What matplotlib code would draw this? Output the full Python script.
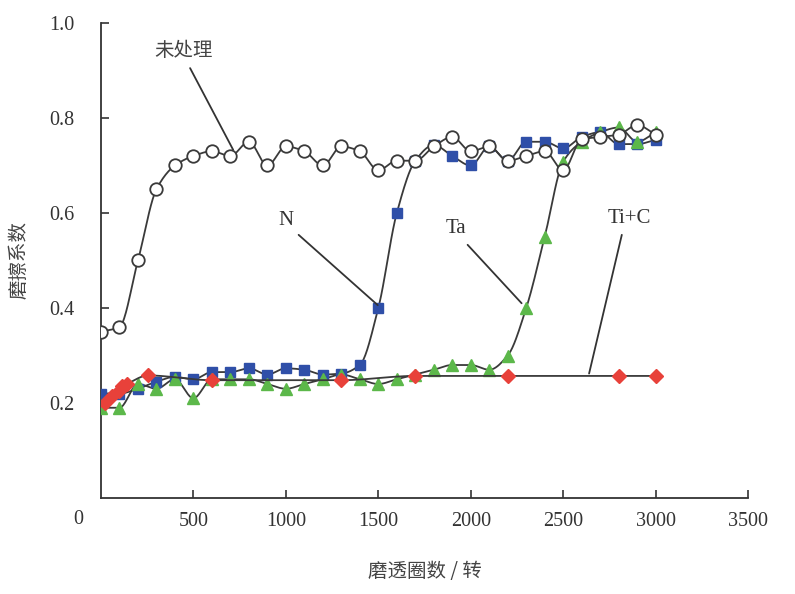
import numpy as np
import matplotlib
matplotlib.use("Agg")
import matplotlib.pyplot as plt

plt.rcParams['font.family'] = ['Liberation Serif', 'Noto Sans CJK SC', 'DejaVu Sans']

# ---------------- data ----------------
x_main = list(range(0, 3100, 100))
untreated = [0.35, 0.36, 0.50, 0.65, 0.70, 0.72, 0.73, 0.72, 0.75, 0.70,
             0.74, 0.73, 0.70, 0.74, 0.73, 0.69, 0.71, 0.71, 0.74, 0.76,
             0.73, 0.74, 0.71, 0.72, 0.73, 0.69, 0.755, 0.76, 0.765, 0.785, 0.765]
n_series = [0.22, 0.22, 0.23, 0.245, 0.255, 0.25, 0.265, 0.265, 0.273, 0.26,
            0.273, 0.27, 0.26, 0.262, 0.28, 0.40, 0.60, 0.71, 0.743, 0.72,
            0.70, 0.74, 0.71, 0.75, 0.75, 0.736, 0.76, 0.77, 0.745, 0.745, 0.754]
ta_series = [0.19, 0.19, 0.24, 0.23, 0.25, 0.21, 0.25, 0.25, 0.25, 0.24,
             0.23, 0.24, 0.25, 0.26, 0.25, 0.24, 0.25, 0.26, 0.27, 0.28,
             0.28, 0.27, 0.30, 0.40, 0.55, 0.708, 0.75, 0.77, 0.78, 0.75, 0.77]
x_tic = [20, 60, 95, 115, 140, 255, 600, 1300, 1700, 2200, 2800, 3000]
tic_series = [0.20, 0.215, 0.225, 0.235, 0.24, 0.258, 0.248, 0.248, 0.257, 0.257, 0.257, 0.257]

x_ticks = [500, 1000, 1500, 2000, 2500, 3000, 3500]
y_ticks = [0.2, 0.4, 0.6, 0.8, 1.0]
y_tick_labels = ['0.2', '0.4', '0.6', '0.8', '1.0']

labels = {'untreated': '未处理', 'N': 'N', 'Ta': 'Ta', 'TiC': 'Ti+C'}
xlabel = '磨透圈数 / 转'
ylabel = '磨擦系数'


def pchip(x, y, n=20):
    x = np.asarray(x, float)
    y = np.asarray(y, float)
    h = np.diff(x)
    d = np.diff(y) / h
    m = np.zeros_like(y)
    m[0], m[-1] = d[0], d[-1]
    for k in range(1, len(x) - 1):
        if d[k - 1] * d[k] <= 0:
            m[k] = 0
        else:
            w1 = 2 * h[k] + h[k - 1]
            w2 = h[k] + 2 * h[k - 1]
            m[k] = (w1 + w2) / (w1 / d[k - 1] + w2 / d[k])
    xs, ys = [], []
    for k in range(len(x) - 1):
        t = np.linspace(0, 1, n, endpoint=False)
        hk = h[k]
        h00 = 2 * t**3 - 3 * t**2 + 1
        h10 = t**3 - 2 * t**2 + t
        h01 = -2 * t**3 + 3 * t**2
        h11 = t**3 - t**2
        xs.append(x[k] + t * hk)
        ys.append(h00 * y[k] + h10 * hk * m[k] + h01 * y[k + 1] + h11 * hk * m[k + 1])
    xs.append([x[-1]])
    ys.append([y[-1]])
    return np.concatenate(xs), np.concatenate(ys)


fig = plt.figure(figsize=(7.95, 5.94), dpi=100)
ax = fig.add_axes([0.127, 0.1616, 0.814, 0.7997])

line_c = '#3a3a3a'
lw = 1.3

# N
sx, sy = pchip(x_main, n_series)
ax.plot(sx, sy, color=line_c, lw=lw, zorder=2)
ax.plot(x_main, n_series, ls='none', marker='s', ms=7.5, color='#2f4fa8',
        mec='#2f4fa8', zorder=3)
# Ta
sx, sy = pchip(x_main, ta_series)
ax.plot(sx, sy, color=line_c, lw=lw, zorder=2)
ax.plot(x_main, ta_series, ls='none', marker='^', ms=8.5, color='#5cb84a',
        mec='#5cb84a', zorder=3)
# untreated
sx, sy = pchip(x_main, untreated)
ax.plot(sx, sy, color=line_c, lw=lw, zorder=4)
ax.plot(x_main, untreated, ls='none', marker='o', ms=9, mfc='white',
        mec=line_c, mew=1.3, zorder=5)
# Ti+C
sx, sy = pchip(x_tic, tic_series)
ax.plot(sx, sy, color=line_c, lw=lw, zorder=6)
ax.plot(x_tic, tic_series, ls='none', marker='D', ms=7.5, color='#e8413a',
        mec='#e8413a', zorder=7)

ax.set_xlim(0, 3500)
ax.set_ylim(0, 1.0)
for s in ['top', 'right']:
    ax.spines[s].set_visible(False)
for s in ['left', 'bottom']:
    ax.spines[s].set_color('#333333')
    ax.spines[s].set_linewidth(1.3)

ax.set_xticks(x_ticks)
ax.set_xticklabels([str(v) for v in x_ticks])
ax.set_yticks(y_ticks)
ax.set_yticklabels(y_tick_labels)
ax.tick_params(axis='x', direction='in', length=6, width=1.2, pad=10,
               labelsize=14.5, colors='#333333')
ax.tick_params(axis='y', direction='in', length=6, width=1.2, pad=19,
               labelsize=14.5, colors='#333333')
ax.text(-125, -0.046, '0', ha='center', va='center', fontsize=14.5,
        color='#333333', clip_on=False)

ax.set_xlabel(xlabel, family=['Noto Sans CJK SC'], fontsize=14,
              color='#444444', labelpad=22)
ax.set_ylabel(ylabel, family=['Noto Sans CJK SC'], fontsize=14,
              color='#444444', labelpad=14)

# annotations
tc = '#333333'
ax.text(444, 0.943, labels['untreated'], family=['Noto Sans CJK SC'],
        fontsize=14, ha='center', va='center', color='#444444')
ax.annotate('', xy=(715, 0.733), xytext=(482, 0.905),
            arrowprops=dict(arrowstyle='-', color=tc, lw=1.3, shrinkA=0, shrinkB=0))
ax.text(1000, 0.585, labels['N'], fontsize=15, ha='center', va='center', color=tc)
ax.annotate('', xy=(1497, 0.406), xytext=(1069, 0.554),
            arrowprops=dict(arrowstyle='-', color=tc, lw=1.3, shrinkA=0, shrinkB=0))
ax.text(1918, 0.568, labels['Ta'], fontsize=15, ha='center', va='center', color=tc)
ax.annotate('', xy=(2275, 0.41), xytext=(1983, 0.533),
            arrowprops=dict(arrowstyle='-', color=tc, lw=1.3, shrinkA=0, shrinkB=0))
ax.text(2855, 0.589, labels['TiC'], fontsize=15, ha='center', va='center', color=tc)
ax.annotate('', xy=(2640, 0.262), xytext=(2817, 0.554),
            arrowprops=dict(arrowstyle='-', color=tc, lw=1.3, shrinkA=0, shrinkB=0))

fig.savefig('out.png', dpi=100)
